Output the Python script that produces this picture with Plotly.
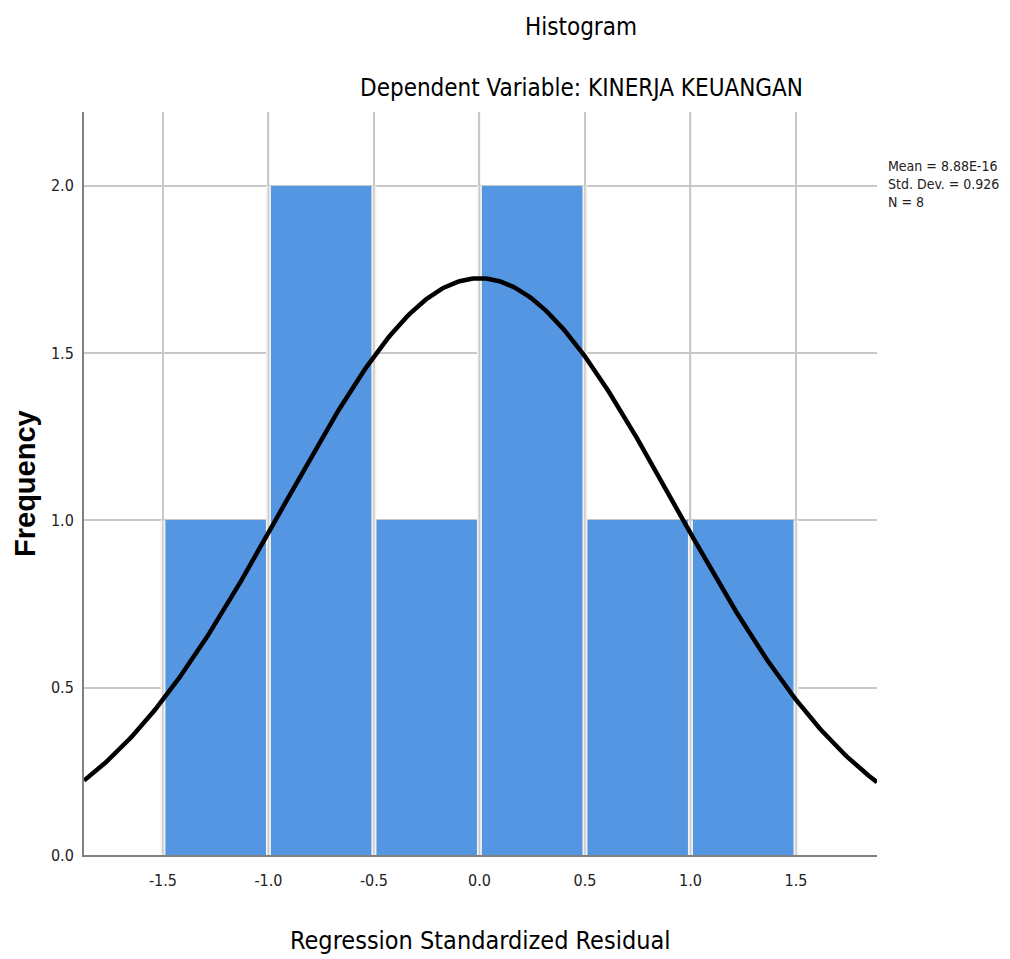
import numpy as np
import plotly.graph_objects as go

# Data
bin_lefts = [-1.5, -1.0, -0.5, 0.0, 0.5, 1.0]
counts = [1, 2, 1, 2, 1, 1]
bin_width = 0.5
mean_label = "8.88E-16"
mean_val = 8.88e-16
std_val = 0.926
n_val = 8
x_ticks = [-1.5, -1.0, -0.5, 0.0, 0.5, 1.0, 1.5]
x_tick_labels = ["-1.5", "-1.0", "-0.5", "0.0", "0.5", "1.0", "1.5"]
y_ticks = [0.0, 0.5, 1.0, 1.5, 2.0]
y_tick_labels = ["0.0", "0.5", "1.0", "1.5", "2.0"]
x_range = [-1.874, 1.884]
y_range = [0, 2.22]

centers = [b + bin_width / 2 for b in bin_lefts]
xs = np.linspace(x_range[0], x_range[1], 400)
ys = n_val * bin_width * np.exp(-0.5 * ((xs - mean_val) / std_val) ** 2) / (std_val * np.sqrt(2 * np.pi))

NARROW = "DejaVu Sans Condensed, Liberation Sans Narrow, Liberation Sans, Arial, sans-serif"
GRID = "#c8c8c8"

# page offset (body margin) compensation
OFF = 8
L, T, PW, PH = 84 - OFF, 112 - OFF, 793, 743
W, H = 1010, 959

fig = go.Figure()
fig.add_trace(go.Bar(
    x=centers, y=counts, width=bin_width,
    marker=dict(color="#5596e3", line=dict(width=0)),
    showlegend=False, hoverinfo="skip",
))
# bar separators at the bin edges: white gap with gridline inside
edges = bin_lefts + [bin_lefts[-1] + bin_width]
wx, wy = [], []
for i, e in enumerate(edges):
    left_h = counts[i - 1] if i > 0 else 0
    right_h = counts[i] if i < len(counts) else 0
    wx += [e, e, None]
    wy += [y_range[0], max(left_h, right_h), None]
fig.add_trace(go.Scatter(
    x=wx, y=wy, mode="lines", line=dict(color="#f2f2f2", width=5),
    showlegend=False, hoverinfo="skip",
))
gx, gy = [], []
for t in x_ticks:
    gx += [t, t, None]
    gy += [y_range[0], y_range[1], None]
fig.add_trace(go.Scatter(
    x=gx, y=gy, mode="lines", line=dict(color=GRID, width=1.5),
    showlegend=False, hoverinfo="skip",
))
fig.add_trace(go.Scatter(
    x=xs, y=ys, mode="lines",
    line=dict(color="black", width=4.5),
    showlegend=False,
))

fig.update_layout(
    width=W, height=H,
    margin=dict(l=L, r=W - L - PW, t=T, b=H - T - PH),
    paper_bgcolor="white", plot_bgcolor="white",
    bargap=0,
    xaxis=dict(
        range=x_range, tickvals=x_ticks, ticktext=x_tick_labels,
        showgrid=True, gridcolor=GRID, gridwidth=1.5,
        showline=True, linecolor="#808080", linewidth=2,
        zeroline=False, ticks="", ticklabelstandoff=10,
        tickfont=dict(family=NARROW, size=16, color="#222222"),
    ),
    yaxis=dict(
        range=y_range, tickvals=y_ticks, ticktext=y_tick_labels,
        showgrid=True, gridcolor=GRID, gridwidth=1.5,
        showline=True, linecolor="#808080", linewidth=2,
        zeroline=False, ticks="", ticklabelstandoff=5,
        tickfont=dict(family=NARROW, size=16, color="#222222"),
    ),
)

def px(xp):
    return (xp - OFF - L) / PW
def py(yp):
    return (T + PH - (yp - OFF)) / PH

fig.add_annotation(text="Histogram", x=px(581), y=py(27), xref="paper", yref="paper",
                   showarrow=False, xanchor="center", yanchor="middle",
                   font=dict(family=NARROW, size=24, color="black"))
fig.add_annotation(text="Dependent Variable: KINERJA KEUANGAN", x=px(581), y=py(88),
                   xref="paper", yref="paper", showarrow=False, xanchor="center", yanchor="middle",
                   font=dict(family=NARROW, size=24, color="black"))
fig.add_annotation(text="Regression Standardized Residual", x=px(480), y=py(940),
                   xref="paper", yref="paper", showarrow=False, xanchor="center", yanchor="middle",
                   font=dict(family=NARROW, size=25, color="black"))
fig.add_annotation(text="<b>Frequency</b>", x=px(25), y=py(484), textangle=-90,
                   xref="paper", yref="paper", showarrow=False, xanchor="center", yanchor="middle",
                   font=dict(family="Liberation Sans, Arial, sans-serif", size=29, color="black"))
fig.add_annotation(text=f"Mean = {mean_label}<br>Std. Dev. = {std_val:.3f}<br>N = {n_val}",
                   x=px(886), y=py(156), xref="paper", yref="paper", showarrow=False,
                   xanchor="left", yanchor="top", align="left",
                   font=dict(family=NARROW, size=14, color="#222222"))

fig.write_html("out.html")
